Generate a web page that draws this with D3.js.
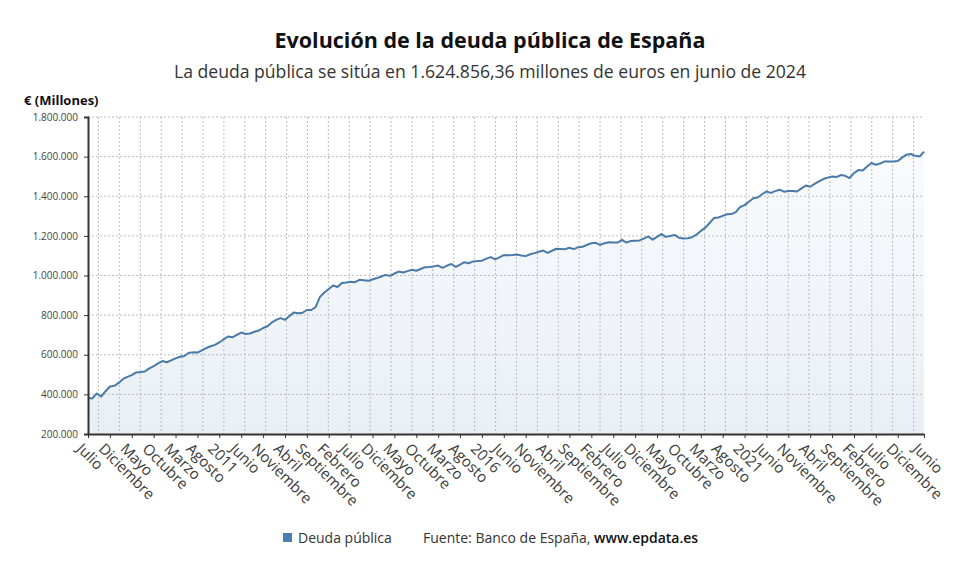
<!DOCTYPE html>
<html>
<head>
<meta charset="utf-8">
<script src="https://cdn.jsdelivr.net/npm/d3@7"></script>
<style>
  html, body { margin: 0; padding: 0; background: #fff; }
  svg { display: block; font-family: "Open Sans", "Noto Sans", sans-serif; }
</style>
</head>
<body>
<svg id="chart" width="980" height="575"></svg>
<script>
// ---- Data (millones de euros), julio 2008 – junio 2024 ----
const startMonth = "2008-07";
const deuda = [
  // 2008 (jul-dic)
  381700, 379500, 404600, 389000, 416000, 439800,
  // 2009
  443000, 458000, 478000, 488000, 497000, 511000, 513000, 516000, 531000, 543000, 556000, 568000,
  // 2010
  562000, 572000, 582000, 590000, 594000, 610000, 612000, 611000, 622000, 634000, 643000, 650000,
  // 2011
  662000, 678000, 692000, 688000, 700000, 712000, 705000, 707000, 716000, 722000, 735000, 744000,
  // 2012
  763000, 776000, 785000, 776000, 795000, 813000, 810000, 812000, 826000, 826000, 840000, 892000,
  // 2013
  914000, 932000, 950000, 942000, 962000, 965000, 969000, 966000, 978000, 976000, 973000, 980000,
  // 2014
  987000, 995000, 1003000, 998000, 1010000, 1020000, 1015000, 1022000, 1029000, 1024000, 1033000, 1042000,
  // 2015
  1043000, 1046000, 1050000, 1039000, 1050000, 1058000, 1044000, 1055000, 1067000, 1062000, 1071000, 1073000,
  // 2016
  1075000, 1085000, 1093000, 1081000, 1092000, 1103000, 1102000, 1103000, 1106000, 1101000, 1098000, 1107000,
  // 2017
  1113000, 1120000, 1126000, 1114000, 1125000, 1135000, 1134000, 1133000, 1140000, 1133000, 1143000, 1145000,
  // 2018
  1155000, 1163000, 1165000, 1155000, 1163000, 1168000, 1167000, 1166000, 1180000, 1166000, 1174000, 1176000,
  // 2019
  1177000, 1186000, 1197000, 1181000, 1195000, 1209000, 1195000, 1199000, 1205000, 1191000, 1187000, 1188000,
  // 2020
  1193000, 1206000, 1225000, 1240000, 1265000, 1290000, 1293000, 1301000, 1309000, 1310000, 1320000, 1346000,
  // 2021
  1355000, 1372000, 1390000, 1394000, 1410000, 1424000, 1417000, 1426000, 1433000, 1423000, 1426000, 1427000,
  // 2022
  1424000, 1440000, 1454000, 1448000, 1462000, 1475000, 1487000, 1494000, 1500000, 1497000, 1507000, 1503000,
  // 2023
  1492000, 1517000, 1532000, 1530000, 1550000, 1568000, 1559000, 1565000, 1576000, 1575000, 1576000, 1578000,
  // 2024 (ene-jun)
  1595000, 1610000, 1613000, 1604000, 1601000, 1624856.36
];

const tickLabels = [
  "Julio","Diciembre","Mayo","Octubre","Marzo","Agosto","2011","Junio","Noviembre","Abril",
  "Septiembre","Febrero","Julio","Diciembre","Mayo","Octubre","Marzo","Agosto","2016","Junio",
  "Noviembre","Abril","Septiembre","Febrero","Julio","Diciembre","Mayo","Octubre","Marzo","Agosto",
  "2021","Junio","Noviembre","Abril","Septiembre","Febrero","Julio","Diciembre","Junio"
];
const yTicks = [200000, 400000, 600000, 800000, 1000000, 1200000, 1400000, 1600000, 1800000];

const title = "Evolución de la deuda pública de España";
const subtitle = "La deuda pública se sitúa en 1.624.856,36 millones de euros en junio de 2024";
const yTitle = "€ (Millones)";
const seriesName = "Deuda pública";

// ---- Layout ----
const svg = d3.select("#chart");
const M = { left: 88, right: 924, top: 117, bottom: 434 };
const lineColor = "#4a7aa8";

const n = deuda.length;
const x = d3.scaleLinear().domain([0, n - 1]).range([M.left, M.right]);
const y = d3.scaleLinear().domain([200000, 1800000]).range([M.bottom, M.top]);

const tickIdx = d3.range(0, n - 6, 5).concat([n - 1]);

// Titles
svg.append("text").attr("x", 490).attr("y", 48).attr("text-anchor", "middle")
  .attr("font-size", 21.5).attr("font-weight", 700).attr("fill", "#111").text(title);
svg.append("text").attr("x", 490).attr("y", 78).attr("text-anchor", "middle")
  .attr("font-size", 17.6).attr("fill", "#333").text(subtitle);
svg.append("text").attr("x", 24).attr("y", 105)
  .attr("font-size", 13).attr("font-weight", 700).attr("fill", "#111").text(yTitle);

// Gradient
const defs = svg.append("defs");
const grad = defs.append("linearGradient").attr("id", "areaGrad")
  .attr("x1", 0).attr("y1", 0).attr("x2", 0).attr("y2", 1);
grad.append("stop").attr("offset", "0%").attr("stop-color", "#f9fbfd");
grad.append("stop").attr("offset", "100%").attr("stop-color", "#e9eff5");

// Area
const area = d3.area().x((d, i) => x(i)).y0(y(200000)).y1(d => y(d));
svg.append("path").datum(deuda).attr("d", area).attr("fill", "url(#areaGrad)");

// Grid
const grid = svg.append("g");
grid.selectAll(".hg").data(yTicks.slice(1)).join("line")
  .attr("x1", M.left).attr("x2", M.right)
  .attr("y1", d => y(d)).attr("y2", d => y(d))
  .attr("stroke", "#bdbdbd").attr("stroke-width", 1).attr("stroke-dasharray", "2,2");
const bandW = (M.right - M.left) / 40;
grid.selectAll(".vg").data(d3.range(40)).join("line")
  .attr("x1", k => M.left + (k + 0.5) * bandW).attr("x2", k => M.left + (k + 0.5) * bandW)
  .attr("y1", M.top).attr("y2", M.bottom)
  .attr("stroke", "#bdbdbd").attr("stroke-width", 1).attr("stroke-dasharray", "2,2");

// Line
const line = d3.line().x((d, i) => x(i)).y(d => y(d));
svg.append("path").datum(deuda).attr("d", line)
  .attr("fill", "none").attr("stroke", lineColor).attr("stroke-width", 2)
  .attr("stroke-linejoin", "round");

// Y axis
const fmt = d => d3.format(",")(d).replace(/,/g, ".");
const yAxis = svg.append("g").attr("transform", `translate(${M.left},0)`)
  .call(d3.axisLeft(y).tickValues(yTicks).tickFormat(fmt).tickSize(4).tickPadding(6));
yAxis.select(".domain").attr("stroke", "#333").attr("stroke-width", 2);
yAxis.selectAll(".tick line").attr("stroke", "#333");
yAxis.selectAll("text").attr("font-size", 10).attr("fill", "#444")
  .attr("font-family", "'Open Sans', sans-serif");

// X axis
const xAxis = svg.append("g").attr("transform", `translate(0,${M.bottom})`)
  .call(d3.axisBottom(x).tickValues(tickIdx).tickFormat((d, i) => tickLabels[i]).tickSize(4).tickSizeOuter(0));
xAxis.select(".domain").attr("stroke", "#333").attr("stroke-width", 2);
xAxis.selectAll(".tick line").attr("stroke", "#333");
xAxis.selectAll(".tick text")
  .attr("font-size", 15).attr("fill", "#3a3a3a").attr("font-family", "'Open Sans', sans-serif")
  .attr("text-anchor", "start")
  .attr("x", 0).attr("y", 0).attr("dy", "0.35em")
  .attr("transform", "translate(-9,12) rotate(45)");

// Legend
const lg = svg.append("g");
lg.append("rect").attr("x", 283).attr("y", 533).attr("width", 9).attr("height", 9).attr("fill", "#4a7eb0");
lg.append("text").attr("x", 298).attr("y", 543).attr("font-size", 14).attr("fill", "#333").text(seriesName);
const src = lg.append("text").attr("x", 423).attr("y", 543).attr("font-size", 14).attr("fill", "#333");
src.append("tspan").text("Fuente: Banco de España, ");
src.append("tspan").attr("font-weight", 600).attr("fill", "#111").text("www.epdata.es");
</script>
</body>
</html>
